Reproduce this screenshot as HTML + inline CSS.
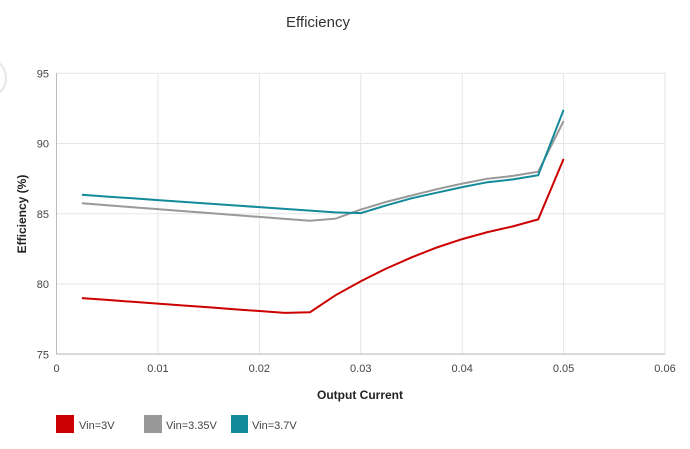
<!DOCTYPE html>
<html><head><meta charset="utf-8"><style>
body{margin:0;background:#fff;width:690px;height:444px;overflow:hidden;font-family:"Liberation Sans",sans-serif}
</style></head><body>
<svg width="690" height="444" xmlns="http://www.w3.org/2000/svg" font-family="Liberation Sans, sans-serif">
<circle cx="-14" cy="78" r="20" fill="#fff" stroke="#e6e6e6" stroke-width="2"/>
<text x="318" y="27" text-anchor="middle" font-size="15" fill="#333">Efficiency</text>
<g id="grid" stroke="#e6e6e6" stroke-width="1"></g>
<g id="lbl" font-size="11" fill="#444"></g>
<text x="360" y="399" text-anchor="middle" font-size="12" font-weight="bold" fill="#222">Output Current</text>
<text transform="translate(26,214) rotate(-90)" text-anchor="middle" font-size="12" font-weight="bold" fill="#222">Efficiency (%)</text>
<g id="series" fill="none" stroke-width="2"></g>
<rect x="56" y="415" width="18" height="18" fill="#cc0000"/>
<text x="79" y="429" font-size="11" fill="#444">Vin=3V</text>
<rect x="144" y="415" width="18" height="18" fill="#999999"/>
<text x="166" y="429" font-size="11" fill="#444">Vin=3.35V</text>
<rect x="231" y="415" width="17" height="18" fill="#128a99"/>
<text x="252" y="429" font-size="11" fill="#444">Vin=3.7V</text>
</svg>
<script>
const X=v=>56.5+v/0.06*608.5, Y=v=>73.3+(95-v)*14.05;
const ns="http://www.w3.org/2000/svg";
const g=document.getElementById('grid'), l=document.getElementById('lbl');
function el(p,t,a,txt){const e=document.createElementNS(ns,t);for(const k in a)e.setAttribute(k,a[k]);if(txt!=null)e.textContent=txt;p.appendChild(e);}
for(let i=0;i<=6;i++){const x=X(i*0.01);el(g,'line',{x1:x,x2:x,y1:73,y2:354});el(l,'text',{x:x,y:372,'text-anchor':'middle'},i==0?'0':(i*0.01).toFixed(2));}
for(let v=75;v<=95;v+=5){const y=Y(v);el(g,'line',{x1:56,x2:665,y1:y,y2:y});el(l,'text',{x:49,y:y+4,'text-anchor':'end'},v);}
el(g,'line',{x1:56.5,x2:56.5,y1:73,y2:354,stroke:'#bbb'});
el(g,'line',{x1:56,x2:665,y1:354,y2:354,stroke:'#bbb'});
const xs=[];for(let i=1;i<=20;i++)xs.push(i*0.0025);
const lin=(a,b,n)=>Array.from({length:n},(_,i)=>a+(b-a)*i/(n-1));
const red=[...lin(79,77.95,9),78,79.2,80.2,81.1,81.9,82.6,83.2,83.7,84.1,84.6,88.9];
const gray=[...lin(85.75,84.5,10),84.65,85.3,85.85,86.3,86.75,87.15,87.5,87.7,88.0,91.6];
const teal=[...lin(86.35,85.1,11),85.05,85.6,86.1,86.5,86.9,87.25,87.45,87.75,92.4];
const s=document.getElementById('series');
[[gray,'#999999'],[teal,'#128a99'],[red,'#cc0000']].forEach(([d,c])=>{
el(s,'polyline',{stroke:c,points:d.map((v,i)=>X(xs[i]).toFixed(1)+','+Y(v).toFixed(1)).join(' ')});});
</script>
</body></html>
